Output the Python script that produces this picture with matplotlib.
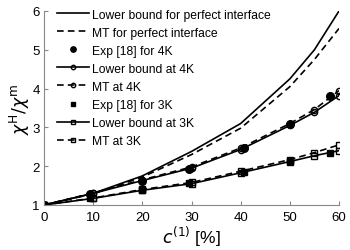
import matplotlib
matplotlib.use("Agg")
import matplotlib.pyplot as plt

plt.rcParams['font.family'] = ['Liberation Sans', 'DejaVu Sans']
plt.rcParams['mathtext.fontset'] = 'dejavusans'

# model concentrations [%]
x_model = [0, 10, 20, 30, 40, 50, 55, 60]
lb_perfect = [1.0, 1.30, 1.75, 2.38, 3.10, 4.25, 5.00, 6.00]
mt_perfect = [1.0, 1.29, 1.72, 2.30, 2.98, 4.05, 4.75, 5.55]
lb_4k = [1.0, 1.30, 1.63, 1.95, 2.43, 3.05, 3.39, 3.82]
mt_4k = [1.0, 1.31, 1.65, 1.98, 2.47, 3.10, 3.46, 3.95]
lb_3k = [1.0, 1.17, 1.38, 1.55, 1.83, 2.12, 2.27, 2.40]
mt_3k = [1.0, 1.18, 1.40, 1.58, 1.87, 2.17, 2.35, 2.55]

# experimental data
x_exp = [0, 9.3, 20, 29.5, 40.7, 50, 58.2]
exp_4k = [1.0, 1.29, 1.63, 1.93, 2.46, 3.09, 3.80]
exp_3k = [1.0, 1.17, 1.39, 1.56, 1.84, 2.14, 2.33]

xticks = [0, 10, 20, 30, 40, 50, 60]
yticks = [1, 2, 3, 4, 5, 6]

fig = plt.figure(figsize=(3.5, 2.51), dpi=100)
ax = fig.add_axes([44/350, 45/251, 295/350, 194/251])

lw = 1.2
ax.plot(x_model, lb_perfect, 'k-', lw=lw, label='Lower bound for perfect interface')
ax.plot(x_model, mt_perfect, 'k--', lw=lw, dashes=(4, 2.5), label='MT for perfect interface')
ax.plot(x_exp, exp_4k, 'k.', ms=11, ls='none', label='Exp [18] for 4K')
ax.plot(x_model, lb_4k, 'k-', lw=lw, marker='o', ms=4.5, mfc='none', mew=1.0, label='Lower bound at 4K')
ax.plot(x_model, mt_4k, 'k--', lw=lw, dashes=(4, 2.5), marker='o', ms=4.5, mfc='none', mew=1.0, label='MT at 4K')
ax.plot(x_exp, exp_3k, 'ks', ms=5, ls='none', label='Exp [18] for 3K')
ax.plot(x_model, lb_3k, 'k-', lw=lw, marker='s', ms=4, mfc='none', mew=1.0, label='Lower bound at 3K')
ax.plot(x_model, mt_3k, 'k--', lw=lw, dashes=(4, 2.5), marker='s', ms=4, mfc='none', mew=1.0, label='MT at 3K')

ax.set_xlim(0, 60)
ax.set_ylim(1, 6)
ax.set_xticks(xticks)
ax.set_yticks(yticks)
for s in ['top', 'right']:
    ax.spines[s].set_visible(False)
for s in ['left', 'bottom']:
    ax.spines[s].set_color('#888888')
    ax.spines[s].set_linewidth(0.8)
ax.tick_params(direction='in', length=3, width=0.8, color='#888888', labelsize=9.5)
ax.tick_params(axis='x', pad=4)
ax.tick_params(axis='y', pad=3)

ax.set_xlabel(r'$c^{(1)}$ [%]', fontsize=12.5, labelpad=1)
ax.set_ylabel(r'$\chi^{\mathrm{H}}/\chi^{\mathrm{m}}$', fontsize=12.5, labelpad=0)

leg = ax.legend(loc='upper left', bbox_to_anchor=(0.02, 1.05), frameon=False, fontsize=8.7,
                handlelength=2.6, handletextpad=0.3, labelspacing=0.5, borderaxespad=0.2,
                markerscale=0.7)

fig.savefig('out.png', dpi=100)
